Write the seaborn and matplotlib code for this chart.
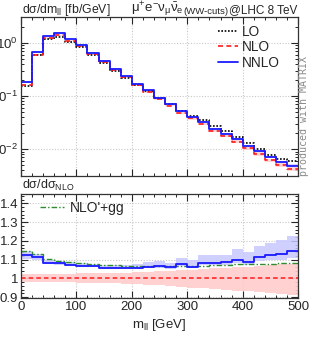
import numpy as np
import pandas as pd
import seaborn as sns
import matplotlib
matplotlib.use("Agg")
import matplotlib.pyplot as plt
from matplotlib.ticker import MultipleLocator, LogLocator, FormatStrFormatter

# bin edges in m_ll [GeV]
edges = np.arange(0, 501, 20)

# top panel: d sigma / d m_ll [fb/GeV]
lo = [0.155, 0.58, 1.17, 1.30, 1.03, 0.83, 0.59, 0.42, 0.30, 0.22, 0.162, 0.122, 0.091,
      0.070, 0.053, 0.042, 0.0345, 0.0268, 0.0216, 0.0166, 0.0132, 0.0100, 0.0079, 0.0066, 0.0059]
nlo = [0.160, 0.595, 1.24, 1.39, 1.09, 0.865, 0.61, 0.433, 0.308, 0.222, 0.162, 0.120, 0.087,
       0.066, 0.0485, 0.0376, 0.030, 0.0218, 0.0176, 0.0138, 0.0105, 0.0081, 0.0062, 0.0050, 0.0043]
nnlo = [0.182, 0.66, 1.34, 1.50, 1.17, 0.92, 0.65, 0.457, 0.325, 0.235, 0.171, 0.128, 0.093,
        0.0697, 0.052, 0.040, 0.0325, 0.0237, 0.0192, 0.0152, 0.0115, 0.0091, 0.0070, 0.0057, 0.0049]

# lower panel: ratios to NLO
nlo_band_hi = [1.022, 1.022, 1.023, 1.024, 1.025, 1.026, 1.027, 1.028, 1.029, 1.031, 1.033, 1.036, 1.038,
               1.040, 1.043, 1.046, 1.050, 1.053, 1.056, 1.060, 1.063, 1.066, 1.070, 1.074, 1.078]
nlo_band_lo = [0.982, 0.981, 0.980, 0.979, 0.978, 0.977, 0.976, 0.975, 0.973, 0.971, 0.968, 0.965, 0.962,
               0.958, 0.955, 0.951, 0.947, 0.943, 0.939, 0.935, 0.931, 0.927, 0.922, 0.918, 0.913]
nnlo_ratio = [1.127, 1.112, 1.082, 1.080, 1.072, 1.066, 1.066, 1.056, 1.056, 1.056, 1.056, 1.062, 1.067,
              1.059, 1.076, 1.062, 1.083, 1.084, 1.085, 1.100, 1.089, 1.115, 1.127, 1.132, 1.148]
nnlo_band_hi = [1.144, 1.132, 1.098, 1.093, 1.086, 1.080, 1.078, 1.072, 1.072, 1.073, 1.074, 1.085, 1.090,
                1.082, 1.108, 1.097, 1.122, 1.122, 1.122, 1.156, 1.140, 1.174, 1.189, 1.205, 1.225]
nnlo_band_lo = [1.105, 1.098, 1.074, 1.072, 1.065, 1.059, 1.059, 1.050, 1.050, 1.050, 1.050, 1.055, 1.057,
                1.052, 1.066, 1.053, 1.072, 1.072, 1.072, 1.082, 1.072, 1.090, 1.098, 1.100, 1.108]
nlo_gg = [1.145, 1.130, 1.102, 1.094, 1.087, 1.081, 1.077, 1.073, 1.070, 1.068, 1.068, 1.067, 1.067,
          1.067, 1.068, 1.066, 1.068, 1.070, 1.072, 1.076, 1.077, 1.078, 1.078, 1.080, 1.082]

BLUE = "#1a1aff"
RED = "#ff1a1a"
GREEN = "#2e8b2e"


def ext(v):
    # repeat last value so the step reaches the right edge
    return np.append(np.asarray(v, dtype=float), v[-1])


sns.set_style("ticks")
plt.rcParams["font.family"] = ["Liberation Sans", "DejaVu Sans"]
plt.rcParams["mathtext.default"] = "regular"
plt.rcParams["font.size"] = 10

fig = plt.figure(figsize=(3.11, 3.40), dpi=100)
ax1 = fig.add_axes([0.0675, 0.482, 0.891, 0.468])
ax2 = fig.add_axes([0.0675, 0.1235, 0.891, 0.306])

# ---- top panel
nnlo_a = np.asarray(nnlo)
nlo_a = np.asarray(nlo)
ax1.fill_between(edges, ext(nlo_a * np.asarray(nlo_band_lo)), ext(nlo_a * np.asarray(nlo_band_hi)),
                 step="post", color="#ffcccc", lw=0, alpha=0.8)
ax1.fill_between(edges, ext(nnlo_a * np.asarray(nnlo_band_lo) / np.asarray(nnlo_ratio)),
                 ext(nnlo_a * np.asarray(nnlo_band_hi) / np.asarray(nnlo_ratio)),
                 step="post", color="#c8c8ff", lw=0, alpha=0.8)

top = pd.DataFrame({"m": edges, "LO": ext(lo), "NLO": ext(nlo), "NNLO": ext(nnlo)})
sns.lineplot(data=top, x="m", y="LO", ax=ax1, color="black", linestyle=(0, (1, 1)), lw=1.2,
             drawstyle="steps-post", estimator=None, sort=False, label="LO")
sns.lineplot(data=top, x="m", y="NLO", ax=ax1, color=RED, linestyle=(0, (3, 2)), lw=1.2,
             drawstyle="steps-post", estimator=None, sort=False, label="NLO")
sns.lineplot(data=top, x="m", y="NNLO", ax=ax1, color=BLUE, linestyle="-", lw=1.3,
             drawstyle="steps-post", estimator=None, sort=False, label="NNLO")
ax1.set_yscale("log")
ax1.set_ylim(3.1e-3, 3.05)
ax1.set_xlim(0, 500)
ax1.set_xlabel("")
ax1.set_ylabel("")
ax1.set_xticklabels([])
ax1.yaxis.set_major_locator(LogLocator(base=10, numticks=10))
ax1.yaxis.set_minor_locator(LogLocator(base=10, subs=np.arange(2, 10), numticks=10))
ax1.legend(loc="upper right", bbox_to_anchor=(0.955, 0.985), frameon=False, handlelength=1.5,
           labelspacing=0.1, handletextpad=0.3, borderaxespad=0, fontsize=9.8)

# ---- lower panel
ratio = pd.DataFrame({"m": edges, "NNLO": ext(nnlo_ratio), "gg": ext(nlo_gg),
                      "one": ext([1.0] * len(nlo))})
ax2.fill_between(edges, ext(nlo_band_lo), ext(nlo_band_hi), step="post", color="#ffcccc", lw=0, alpha=0.9)
ax2.fill_between(edges, ext(nnlo_band_lo), ext(nnlo_band_hi), step="post", color="#c8c8ff", lw=0, alpha=0.85)
sns.lineplot(data=ratio, x="m", y="one", ax=ax2, color=RED, linestyle=(0, (3, 2)), lw=1.1,
             drawstyle="steps-post", estimator=None, sort=False)
sns.lineplot(data=ratio, x="m", y="gg", ax=ax2, color=GREEN, linestyle=(0, (4, 1.5, 1, 1.5)), lw=1.0,
             drawstyle="steps-post", estimator=None, sort=False, label="NLO'+gg")
sns.lineplot(data=ratio, x="m", y="NNLO", ax=ax2, color=BLUE, linestyle="-", lw=1.3,
             drawstyle="steps-post", estimator=None, sort=False)
ax2.set_xlim(0, 500)
ax2.set_ylim(0.895, 1.45)
ax2.set_xlabel("m$_{ll}$ [GeV]", fontsize=9.5, labelpad=3)
ax2.set_ylabel("")
ax2.yaxis.set_major_locator(MultipleLocator(0.1))
ax2.yaxis.set_minor_locator(MultipleLocator(0.02))
ax2.yaxis.set_major_formatter(FormatStrFormatter("%g"))
ax2.legend(loc="upper left", bbox_to_anchor=(0.05, 0.985), frameon=False, handlelength=1.7,
           handletextpad=0.4, borderaxespad=0, fontsize=10)

for ax in (ax1, ax2):
    ax.xaxis.set_major_locator(MultipleLocator(100))
    ax.xaxis.set_minor_locator(MultipleLocator(20))
    ax.tick_params(which="both", direction="in", top=True, right=True, labelsize=9.5, pad=2)
    ax.tick_params(which="major", length=5, width=0.8)
    ax.tick_params(which="minor", length=2.5, width=0.7)
    ax.grid(True, which="major", color="#c8c8c8", linestyle=(0, (1, 1.5)), lw=0.8)
    ax.set_axisbelow(True)
    for s in ax.spines.values():
        s.set_color("#333333")
        s.set_linewidth(0.9)

# titles
fig.text(0.071, 0.963, "d\u03c3/dm$_{ll}$ [fb/GeV]", ha="left", va="baseline", fontsize=8.8)
fig.text(0.071, 0.443, "d\u03c3/d\u03c3$_{NLO}$", ha="left", va="baseline", fontsize=9)
t3 = fig.text(0.955, 0.963, "@LHC 8 TeV", ha="right", va="baseline", fontsize=8.5)
t2 = fig.text(0, 0, "(WW-cuts)", fontsize=6.8, ha="right", va="bottom")
t1 = fig.text(0, 0, r"$\mu^{+}e^{-}\nu_{\mu}\bar{\nu}_{e}$", fontsize=9.5, ha="right", va="baseline")
fig.canvas.draw()
r = fig.canvas.get_renderer()
bb3 = t3.get_window_extent(r).transformed(fig.transFigure.inverted())
t2.set_position((bb3.x0, bb3.y0))
bb2 = t2.get_window_extent(r).transformed(fig.transFigure.inverted())
t1.set_position((bb2.x0, 0.963))

fig.text(0.976, 0.482, "produced with MATRIX", rotation=90, ha="center", va="bottom",
         fontsize=7.2, family="DejaVu Sans Mono", color="#8a8a8a")

fig.savefig("out.png", dpi=100)
